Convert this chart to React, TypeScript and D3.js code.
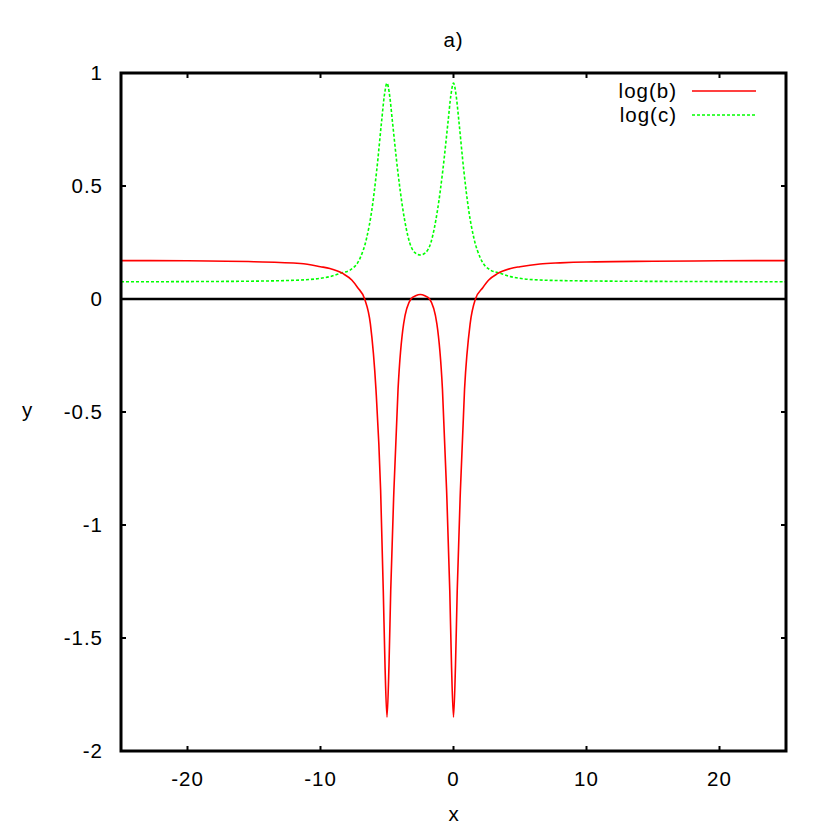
import React from "react";
import * as d3 from "d3";

const xTicks = [-20, -10, 0, 10, 20];
const yTicks = [-2, -1.5, -1, -0.5, 0, 0.5, 1];
const yTickLabels = ["-2", "-1.5", "-1", "-0.5", "0", "0.5", "1"];

const redX = [-25, -20, -15, -11.5, -10, -9.3, -8.3, -7.65, -7.2, -6.68, -6.25, -5.83, -5.48, -5.28, -5.15, -5, -4.85, -4.72, -4.48, -4.17, -3.75, -3.2, -2.85, -2.5, -2.15, -1.8, -1.25, -0.83, -0.52, -0.28, -0.15, 0, 0.15, 0.28, 0.52, 0.83, 1.25, 1.65, 2.2, 2.65, 3.3, 4.3, 5, 6.5, 8, 10, 15, 20, 25];
const redY = [0.170, 0.169, 0.165, 0.157, 0.143, 0.135, 0.112, 0.084, 0.05, 0.0, -0.11, -0.40, -0.845, -1.29, -1.62, -1.85, -1.62, -1.29, -0.845, -0.40, -0.11, 0.0, 0.014, 0.02, 0.014, 0.0, -0.11, -0.40, -0.845, -1.29, -1.62, -1.85, -1.62, -1.29, -0.845, -0.40, -0.11, 0.0, 0.05, 0.084, 0.112, 0.135, 0.143, 0.155, 0.160, 0.164, 0.167, 0.169, 0.170];

const greenX = [-25, -20, -15, -11.5, -9.3, -8.46, -7.78, -7.03, -6.53, -6.15, -5.77, -5.4, -5.2, -5, -4.8, -4.6, -4.2, -3.8, -3.3, -2.9, -2.5, -2.1, -1.7, -1.2, -0.8, -0.4, -0.2, 0, 0.2, 0.4, 0.77, 1.15, 1.53, 2.03, 2.78, 3.46, 4.3, 6.5, 10, 15, 20, 25];
const greenY = [0.076, 0.077, 0.079, 0.084, 0.099, 0.115, 0.128, 0.18, 0.27, 0.39, 0.571, 0.79, 0.9, 0.955, 0.9, 0.79, 0.571, 0.394, 0.25, 0.205, 0.195, 0.205, 0.25, 0.394, 0.571, 0.79, 0.9, 0.955, 0.9, 0.79, 0.571, 0.39, 0.27, 0.18, 0.128, 0.115, 0.099, 0.084, 0.080, 0.078, 0.077, 0.076];

const seriesNames = ["log(b)", "log(c)"];
const titleText = "a)";

const W = 830, H = 830;
const left = 121, right = 786, top = 73, bottom = 751;
const FONT = "'Liberation Sans', Arial, Helvetica, sans-serif";
const FS = 20.5;
const LS = 1;

export default function App() {
  const x = d3.scaleLinear().domain([-25, 25]).range([left, right]);
  const y = d3.scaleLinear().domain([-2, 1]).range([bottom, top]);
  const line = d3
    .line<[number, number]>()
    .x((d) => x(d[0]))
    .y((d) => y(d[1]))
    .curve(d3.curveMonotoneX);
  const red = redX.map((v, i) => [v, redY[i]] as [number, number]);
  const green = greenX.map((v, i) => [v, greenY[i]] as [number, number]);
  const tl = 5;
  return (
    <svg width={W} height={H} style={{ position: "absolute", left: 0, top: 0, background: "#fff" }}>
      <defs>
        <clipPath id="plot">
          <rect x={left} y={top} width={right - left} height={bottom - top} />
        </clipPath>
      </defs>
      <text x={x(0)} y={47} textAnchor="middle" fontFamily={FONT} fontSize={FS} letterSpacing={LS}>{titleText}</text>
      {/* zero axis */}
      <line x1={left} x2={right} y1={y(0)} y2={y(0)} stroke="#000" strokeWidth={2.6} />
      <g clipPath="url(#plot)">
        <path d={line(green) || ""} fill="none" stroke="#00ff00" strokeWidth={1.6} strokeDasharray="3,2" />
        <path d={line(red) || ""} fill="none" stroke="#ff0000" strokeWidth={1.6} />
      </g>
      {/* ticks */}
      {xTicks.map((t) => (
        <g key={"xt" + t}>
          <line x1={x(t)} x2={x(t)} y1={bottom} y2={bottom - tl} stroke="#000" strokeWidth={2} />
          <line x1={x(t)} x2={x(t)} y1={top} y2={top + tl} stroke="#000" strokeWidth={2} />
          <text x={x(t)} y={786} textAnchor="middle" fontFamily={FONT} fontSize={FS} letterSpacing={LS}>{t}</text>
        </g>
      ))}
      {yTicks.map((t, i) => (
        <g key={"yt" + t}>
          <line x1={left} x2={left + tl} y1={y(t)} y2={y(t)} stroke="#000" strokeWidth={2} />
          <line x1={right} x2={right - tl} y1={y(t)} y2={y(t)} stroke="#000" strokeWidth={2} />
          <text x={103} y={y(t) + 7} textAnchor="end" fontFamily={FONT} fontSize={FS} letterSpacing={LS}>{yTickLabels[i]}</text>
        </g>
      ))}
      <rect x={left} y={top} width={right - left} height={bottom - top} fill="none" stroke="#000" strokeWidth={3} />
      {/* legend */}
      <text x={677} y={98} textAnchor="end" fontFamily={FONT} fontSize={FS} letterSpacing={LS}>{seriesNames[0]}</text>
      <line x1={692} x2={756} y1={91} y2={91} stroke="#ff0000" strokeWidth={1.6} />
      <text x={677} y={122} textAnchor="end" fontFamily={FONT} fontSize={FS} letterSpacing={LS}>{seriesNames[1]}</text>
      <line x1={692} x2={756} y1={115} y2={115} stroke="#00ff00" strokeWidth={1.6} strokeDasharray="3,2" />
      {/* axis labels */}
      <text x={x(0)} y={821} textAnchor="middle" fontFamily={FONT} fontSize={FS}>x</text>
      <text x={27} y={y(-0.5) + 5} textAnchor="middle" fontFamily={FONT} fontSize={FS}>y</text>
    </svg>
  );
}
